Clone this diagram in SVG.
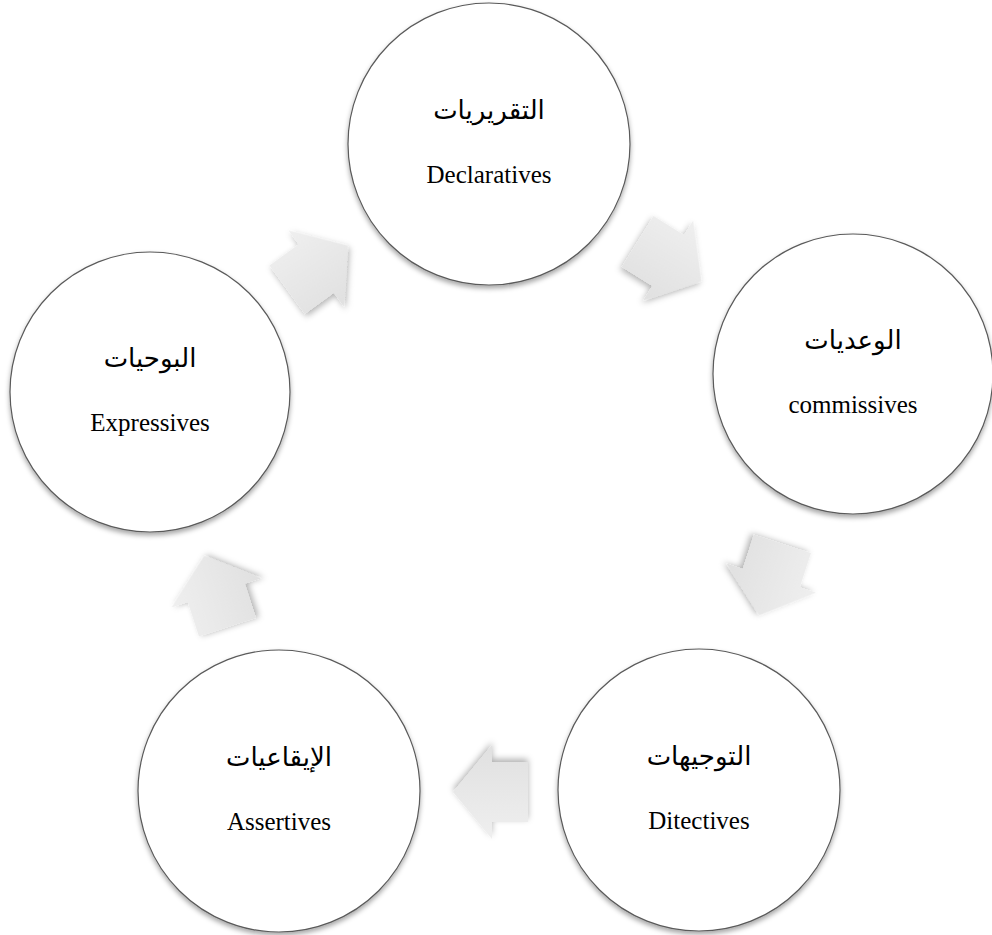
<svg xmlns="http://www.w3.org/2000/svg" width="992" height="935" viewBox="0 0 992 935">
<style>
.node circle{fill:#ffffff;stroke:#5a5a5a;stroke-width:1.2;filter:url(#cs)}
.ar{font-family:"DejaVu Sans",sans-serif;font-size:26px;fill:#000;text-anchor:middle}
.en{font-family:"Liberation Serif",serif;font-size:25px;fill:#000;text-anchor:middle}
.arw{fill:url(#ag);filter:url(#as)}
</style>
<defs>
<filter id="cs" x="-20%" y="-20%" width="140%" height="140%">
<feDropShadow dx="0" dy="3" stdDeviation="2.5" flood-color="#000" flood-opacity="0.35"/>
</filter>
<filter id="as" x="-30%" y="-30%" width="160%" height="160%">
<feDropShadow dx="0" dy="3" stdDeviation="3" flood-color="#000" flood-opacity="0.3"/>
</filter>
<linearGradient id="ag" x1="0" y1="0" x2="0" y2="1">
<stop offset="0" stop-color="#efefef"/>
<stop offset="1" stop-color="#e0e0e0"/>
</linearGradient>
<polygon id="arrow" points="-37,-30 -1,-30 -1,-47 38,0 -1,47 -1,30 -37,30"/>
</defs>
<rect width="992" height="935" fill="#ffffff"/>
<g id="connectors">
<use href="#arrow" class="arw" transform="translate(669,261) rotate(32)"/>
<use href="#arrow" class="arw" transform="translate(771,579) rotate(108)"/>
<use href="#arrow" class="arw" transform="translate(491,792) rotate(180)"/>
<use href="#arrow" class="arw" transform="translate(216,592) rotate(-108)"/>
<use href="#arrow" class="arw" transform="translate(317,268) rotate(-36)"/>
</g>
<g id="node-declaratives" class="node">
<circle cx="489" cy="144" r="141"/>
<text class="ar" x="489" y="119">التقريريات</text>
<text class="en" x="489" y="183">Declaratives</text>
</g>
<g id="node-commissives" class="node">
<circle cx="853" cy="374" r="140"/>
<text class="ar" x="853" y="349">الوعديات</text>
<text class="en" x="853" y="413">commissives</text>
</g>
<g id="node-ditectives" class="node">
<circle cx="699" cy="790" r="141"/>
<text class="ar" x="699" y="765">التوجيهات</text>
<text class="en" x="699" y="829">Ditectives</text>
</g>
<g id="node-assertives" class="node">
<circle cx="279" cy="791" r="141"/>
<text class="ar" x="279" y="766">الإيقاعيات</text>
<text class="en" x="279" y="830">Assertives</text>
</g>
<g id="node-expressives" class="node">
<circle cx="150" cy="392" r="140"/>
<text class="ar" x="150" y="367">البوحيات</text>
<text class="en" x="150" y="431">Expressives</text>
</g>
</svg>
